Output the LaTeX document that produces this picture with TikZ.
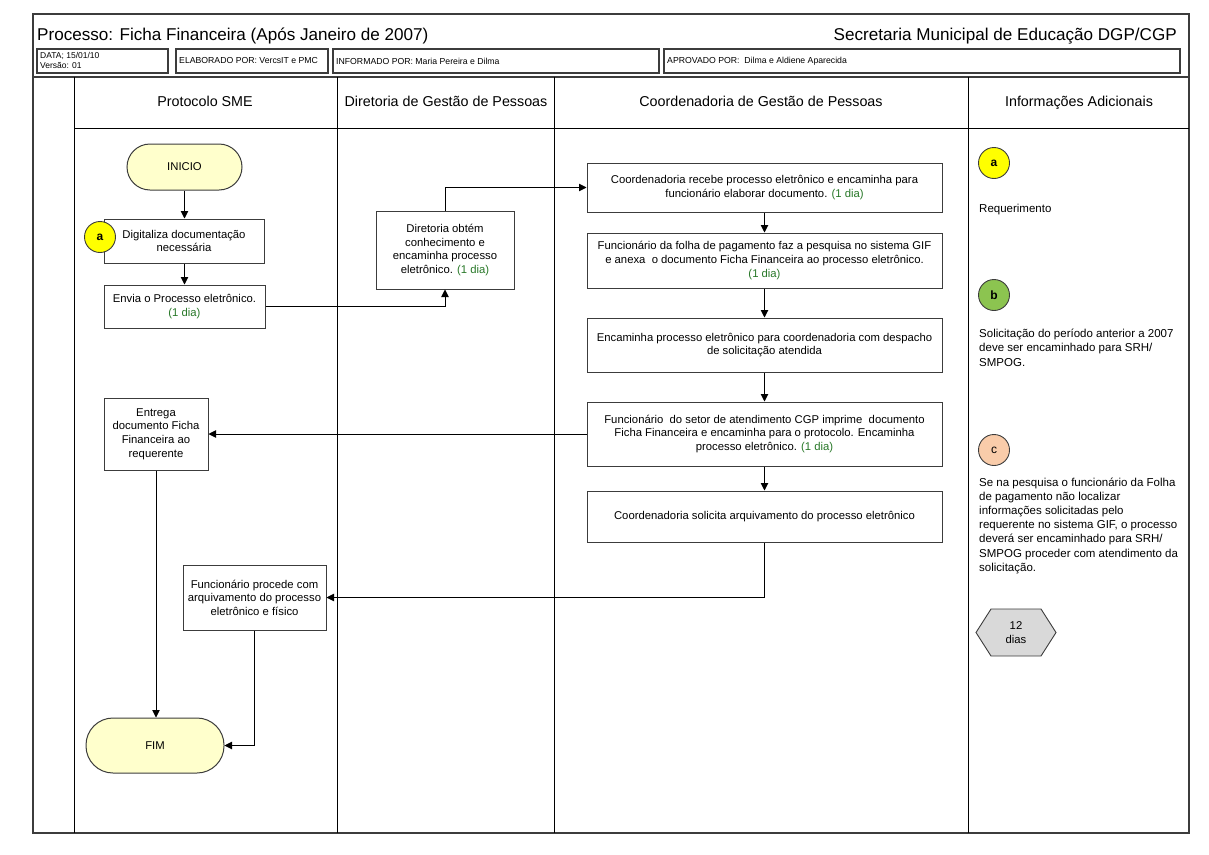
\documentclass[tikz,border=0pt]{standalone}
\usepackage{fontspec}
\setmainfont{Liberation Sans}
\usetikzlibrary{arrows.meta,calc}
\definecolor{dgreen}{RGB}{40,120,40}
\definecolor{termfill}{RGB}{255,255,204}
\definecolor{cyel}{RGB}{255,255,0}
\definecolor{cgreen}{RGB}{140,196,80}
\definecolor{cpeach}{RGB}{249,204,170}
\definecolor{hexgray}{RGB}{217,217,217}
\definecolor{linegray}{RGB}{60,60,60}
\newcommand{\dia}{\textcolor{dgreen}{(1 dia)}}
\tikzset{
  frame/.style={draw=linegray, line width=1.4pt},
  lane/.style={draw=black, line width=0.9pt},
  infobox/.style={draw=linegray, line width=1.2pt},
  proc/.style={draw=linegray, line width=1pt, fill=white, align=center, inner sep=2pt,
     font=\fontsize{11.3}{13.6}\selectfont},
  term/.style={draw=linegray, line width=1pt, fill=termfill, font=\fontsize{11.3}{13}\selectfont},
  tag/.style={circle, draw=linegray, line width=0.9pt, minimum size=31pt, inner sep=0pt,
     font=\bfseries\fontsize{12}{14}\selectfont},
  arr/.style={draw=black, line width=0.9pt, -{Triangle[length=7.5pt,width=7.5pt]}},
  hdr/.style={font=\fontsize{14.3}{17}\selectfont, text height=10.5pt, text depth=3pt},
  small/.style={font=\fontsize{8.7}{10}\selectfont, anchor=west, inner sep=0pt},
  note/.style={anchor=north west, align=left, inner sep=0pt, font=\fontsize{11.5}{14.2}\selectfont}
}
\begin{document}
\begin{tikzpicture}[x=1pt,y=-1pt]
\useasboundingbox (0,0) rectangle (1209,854);
% frame and lanes
\draw[frame] (33,14) rectangle (1189,833);
\draw[frame] (33,77) -- (1189,77);
\draw[lane] (74,77) -- (74,833);
\draw[lane] (337,77) -- (337,833);
\draw[lane] (554,77) -- (554,833);
\draw[lane] (968,77) -- (968,833);
\draw[lane] (74,128) -- (1189,128);
% title
\node[anchor=west, inner sep=0pt, font=\fontsize{17.1}{20}\selectfont] (title) at (37,36) {Processo: Ficha Financeira (Após Janeiro de 2007)};
\node[anchor=east, inner sep=0pt, font=\fontsize{17.1}{20}\selectfont] (org) at (1177,36) {Secretaria Municipal de Educação DGP/CGP};
% info boxes
\draw[infobox] (37,49) rectangle (168,73);
\draw[infobox] (176,49) rectangle (328,73);
\draw[infobox] (333,49) rectangle (659,73);
\draw[infobox] (664,49) rectangle (1180,73);
\node[small, anchor=north west, align=left, font=\fontsize{8.5}{10.5}\selectfont] (data) at (40,52) {DATA; 15/01/10\\Versão: 01};
\node[small] (elab) at (179,61) {ELABORADO POR: VercsIT e PMC};
\node[small] (inf) at (336,61) {INFORMADO POR: Maria Pereira e Dilma};
\node[small] (apr) at (667,61) {APROVADO POR:\ \ Dilma e Aldiene Aparecida};
% headers
\node[hdr] (h1) at (205,103) {Protocolo SME};
\node[hdr] (h2) at (446,103) {Diretoria de Gestão de Pessoas};
\node[hdr] (h3) at (761,103) {Coordenadoria de Gestão de Pessoas};
\node[hdr] (h4) at (1079,103) {Informações Adicionais};
% Protocolo lane
\node[term, minimum width=115pt, minimum height=46pt, rounded corners=23pt] (ini) at (184.5,167) {INICIO};
\node[proc, minimum width=160pt, minimum height=44pt] (dig) at (184,241) {Digitaliza documentação\\necessária};
\node[tag, fill=cyel] (ta) at (100,237) {a};
\node[proc, minimum width=161pt, minimum height=43pt] (env) at (184.5,306.5) {Envia o Processo eletrônico.\\\dia};
\node[proc, minimum width=104pt, minimum height=72pt] (ent) at (156,434) {Entrega\\documento Ficha\\Financeira ao\\requerente};
\node[proc, minimum width=143pt, minimum height=65pt] (arq) at (254.5,597.5) {Funcionário procede com\\arquivamento do processo\\eletrônico e físico};
\node[term, minimum width=138pt, minimum height=55pt, rounded corners=27pt] (fim) at (155,745.5) {FIM};
% Diretoria lane
\node[proc, minimum width=138pt, minimum height=78pt] (dir) at (445,250) {Diretoria obtém\\conhecimento e\\encaminha processo\\eletrônico. \dia};
% Coordenadoria lane
\node[proc, minimum width=355pt, minimum height=49pt] (c1) at (764.5,187.5) {Coordenadoria recebe processo eletrônico e encaminha para\\funcionário elaborar documento. \dia};
\node[proc, minimum width=355pt, minimum height=55pt] (c2) at (764.5,260.5) {Funcionário da folha de pagamento faz a pesquisa no sistema GIF\\e anexa\ \ o documento Ficha Financeira ao processo eletrônico.\\\dia};
\node[proc, minimum width=355pt, minimum height=54pt] (c3) at (764.5,345) {Encaminha processo eletrônico para coordenadoria com despacho\\de solicitação atendida};
\node[proc, minimum width=355pt, minimum height=64pt] (c4) at (764.5,434) {Funcionário\ \ do setor de atendimento CGP imprime\ \ documento\\Ficha Financeira e encaminha para o protocolo. Encaminha\\processo eletrônico. \dia};
\node[proc, minimum width=355pt, minimum height=51pt] (c5) at (764.5,516.5) {Coordenadoria solicita arquivamento do processo eletrônico};
% connectors
\draw[arr] (ini.south) -- (ini.south |- dig.north);
\draw[arr] (dig.south -| ini.south) -- (ini.south |- env.north);
\draw[arr] (env.east) -| (dir.south);
\draw[arr] (dir.north) |- (c1.west);
\draw[arr] (c1.south) -- (c2.north);
\draw[arr] (c2.south) -- (c3.north);
\draw[arr] (c3.south) -- (c4.north);
\draw[arr] (c4.south) -- (c5.north);
\draw[arr] (c4.west) -- (c4.west -| ent.east);
\draw[arr] (c5.south) |- (arq.east);
\draw[arr] (ent.south) -- (ent.south |- fim.north);
\draw[arr] (arq.south) |- (fim.east);
% Informacoes adicionais
\node[tag, fill=cyel] (ia) at (994,163) {a};
\node[note] (na) at (979,203.5) {Requerimento};
\node[tag, fill=cgreen] (ib) at (994,295) {b};
\node[note] (nb) at (979,329) {Solicitação do período anterior a 2007\\deve ser encaminhado para SRH/\\SMPOG.};
\node[tag, fill=cpeach, font=\fontsize{12}{14}\selectfont] (ic) at (994,450) {c};
\node[note] (nc) at (979,477.5) {Se na pesquisa o funcionário da Folha\\de pagamento não localizar\\informações solicitadas pelo\\requerente no sistema GIF, o processo\\deverá ser encaminhado para SRH/\\SMPOG proceder com atendimento da\\solicitação.};
\draw[draw=linegray, line width=0.9pt, fill=hexgray] (976,632.5) -- (991,609) -- (1041,609) -- (1056,632.5) -- (1041,656) -- (991,656) -- cycle;
\node[align=center, font=\fontsize{11.3}{14}\selectfont] (hex) at (1016,632.5) {12\\dias};
\end{tikzpicture}
\end{document}
